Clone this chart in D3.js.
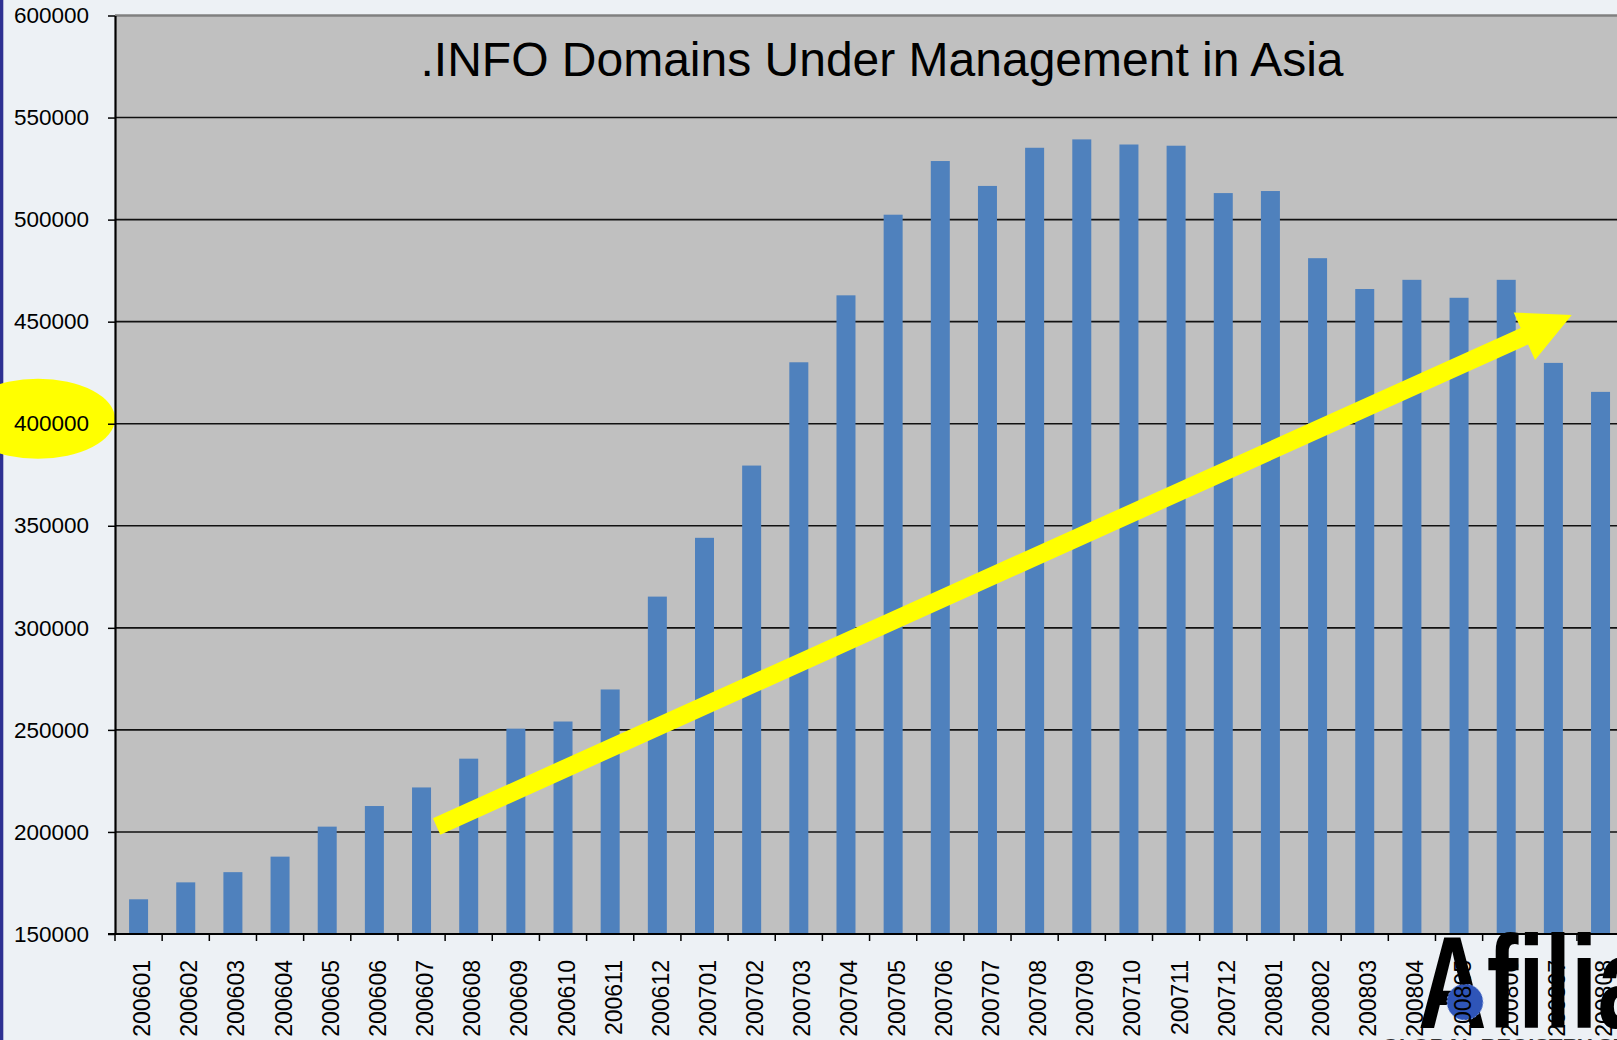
<!DOCTYPE html>
<html>
<head>
<meta charset="utf-8">
<script src="https://cdn.jsdelivr.net/npm/d3@7"></script>
<style>
  html, body { margin: 0; padding: 0; background: #edf1f5; overflow: hidden; }
  svg { display: block; }
  text { font-family: "Liberation Sans", Arial, sans-serif; }
</style>
</head>
<body>
<svg id="chart"></svg>
<script>
var months = ["200601", "200602", "200603", "200604", "200605", "200606", "200607", "200608",
    "200609", "200610", "200611", "200612", "200701", "200702", "200703", "200704",
    "200705", "200706", "200707", "200708", "200709", "200710", "200711", "200712",
    "200801", "200802", "200803", "200804", "200805", "200806", "200807", "200808"];

var domains = [167000, 175300, 180300, 187900, 202600, 212700, 221800, 235900,
    250600, 254100, 269800, 315300, 344100, 379500, 430100, 462900,
    502400, 528700, 516500, 535200, 539300, 536800, 536200, 513000,
    514000, 481100, 466000, 470500, 461700, 470500, 429800, 415600];

var yTicks = [150000, 200000, 250000, 300000, 350000, 400000, 450000, 500000, 550000, 600000];

var chartTitle = ".INFO Domains Under Management in Asia";

// trend arrow, in (band position, value) units
var arrowFrom = {band: 6.82, value: 202700},
    arrowTo = {band: 30.89, value: 453300};

var width = 1617,
    height = 1040;

var plotLeft = 115,
    plotTop = 15.5,
    plotBottom = 934,
    step = 47.16;

var svg = d3.select("#chart")
    .attr("width", width)
    .attr("height", height);

// slide side strip
svg.append("rect")
    .attr("x", 0).attr("y", 0)
    .attr("width", 3.3).attr("height", height)
    .attr("fill", "#2e3192");

var x = d3.scaleBand()
    .domain(months)
    .range([plotLeft, plotLeft + step * months.length])
    .paddingInner(0.6)
    .paddingOuter(0.3);

var xPos = d3.scaleLinear()
    .domain([0, months.length])
    .range([plotLeft, plotLeft + step * months.length]);

var y = d3.scaleLinear()
    .domain([150000, 600000])
    .range([plotBottom, plotTop]);

// plot background
svg.append("rect")
    .attr("x", plotLeft)
    .attr("y", plotTop)
    .attr("width", step * months.length)
    .attr("height", plotBottom - plotTop)
    .attr("fill", "#c0c0c0");

svg.append("line")
    .attr("x1", plotLeft).attr("x2", width)
    .attr("y1", plotTop).attr("y2", plotTop)
    .attr("stroke", "#808080")
    .attr("stroke-width", 2.5);

// gridlines
svg.append("g")
    .selectAll("line")
    .data(yTicks.slice(1, -1))
    .enter().append("line")
    .attr("x1", plotLeft)
    .attr("x2", width)
    .attr("y1", function (d) { return y(d); })
    .attr("y2", function (d) { return y(d); })
    .attr("stroke", "#111")
    .attr("stroke-width", 1.6);

svg.append("text")
    .attr("x", 882)
    .attr("y", 76)
    .style("text-anchor", "middle")
    .style("font-size", "48px")
    .attr("fill", "#000")
    .text(chartTitle);

svg.selectAll(".bar")
    .data(domains)
    .enter().append("rect")
    .attr("class", "bar")
    .attr("x", function (d, i) { return x(months[i]) + (x.bandwidth() - 19) / 2; })
    .attr("width", 19)
    .attr("y", function (d) { return y(d); })
    .attr("height", function (d) { return plotBottom - y(d); })
    .attr("fill", "#4f81bd");

// logo (behind the month labels)
var logo = svg.append("g");
logo.append("text")
    .attr("transform", "translate(1418,1028) scale(0.72,1)")
    .style("font-size", "132px")
    .style("font-weight", "bold")
    .attr("fill", "#000")
    .text("Afilias");
logo.append("circle")
    .attr("cx", 1465).attr("cy", 1002).attr("r", 18)
    .attr("fill", "#2f55b8")
    .attr("stroke", "#8fa6e0")
    .attr("stroke-width", 1)
    .attr("stroke-dasharray", "2,2");
logo.append("text")
    .attr("x", 1382)
    .attr("y", 1054)
    .style("font-size", "22px")
    .style("font-weight", "bold")
    .attr("fill", "#333")
    .text("GLOBAL REGISTRY SERVICES");

// highlight on the 400000 label
svg.append("ellipse")
    .attr("cx", 38)
    .attr("cy", y(400000) - 5)
    .attr("rx", 77)
    .attr("ry", 40)
    .attr("fill", "#ffff00");

/** Axis **/
svg.append("g")
    .attr("transform", "translate(" + plotLeft + ",0)")
    .call(d3.axisLeft(y).tickValues(yTicks).tickFormat(d3.format("d")).tickSize(7).tickPadding(19).tickSizeOuter(0))
    .call(function (g) {
        g.select(".domain").attr("stroke", "#000").attr("stroke-width", 2.2);
        g.selectAll(".tick line").attr("stroke", "#000").attr("stroke-width", 1.5);
        g.selectAll("text").style("font-size", "22.5px").attr("fill", "#000")
            .style("font-family", "Liberation Sans, Arial, sans-serif");
    });

// x ticks at band edges
svg.append("g")
    .selectAll("line")
    .data(d3.range(months.length + 1))
    .enter().append("line")
    .attr("x1", function (d) { return xPos(d); })
    .attr("x2", function (d) { return xPos(d); })
    .attr("y1", plotBottom)
    .attr("y2", plotBottom + 7)
    .attr("stroke", "#000")
    .attr("stroke-width", 1.5);

svg.append("line")
    .attr("x1", plotLeft - 7).attr("x2", width)
    .attr("y1", plotBottom).attr("y2", plotBottom)
    .attr("stroke", "#000")
    .attr("stroke-width", 2.2);

svg.append("g")
    .selectAll("text")
    .data(months)
    .enter().append("text")
    .attr("transform", function (d) {
        return "translate(" + (x(d) + x.bandwidth() / 2 + 11.5) + "," + 960 + ") rotate(-90)";
    })
    .style("text-anchor", "end")
    .style("font-size", "23px")
    .attr("fill", "#000")
    .text(function (d) { return d; });

// yellow trend arrow
var x0 = xPos(arrowFrom.band), y0 = y(arrowFrom.value),
    x1 = xPos(arrowTo.band), y1 = y(arrowTo.value);
var len = Math.hypot(x1 - x0, y1 - y0),
    ang = Math.atan2(y1 - y0, x1 - x0) * 180 / Math.PI;
var headLen = 52, headHalf = 26, shaftHalf = 9;

svg.append("path")
    .attr("transform", "translate(" + x0 + "," + y0 + ") rotate(" + ang + ")")
    .attr("d", "M0," + (-shaftHalf) +
        "L" + (len - headLen) + "," + (-shaftHalf) +
        "L" + (len - headLen) + "," + (-headHalf) +
        "L" + len + ",0" +
        "L" + (len - headLen) + "," + headHalf +
        "L" + (len - headLen) + "," + shaftHalf +
        "L0," + shaftHalf + "Z")
    .attr("fill", "#ffff00");
</script>
</body>
</html>
